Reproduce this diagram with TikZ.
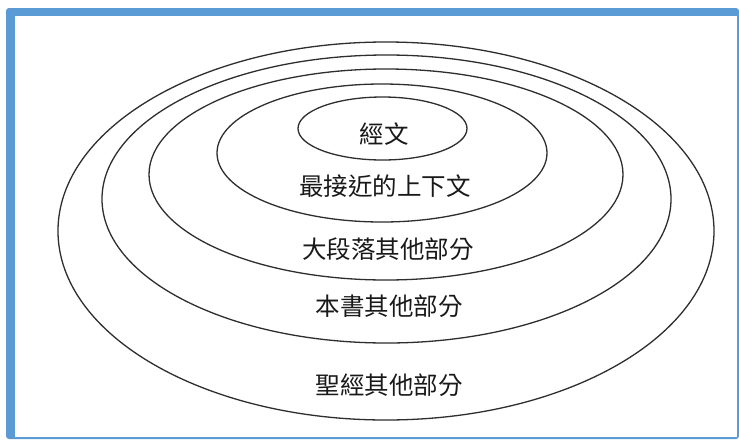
\documentclass[tikz,border=0pt]{standalone}
\usepackage{fontspec}
\newfontfamily\cjk{Noto Sans CJK TC}
\usetikzlibrary{shapes.geometric}
\definecolor{frameblue}{HTML}{5B9BD5}
\definecolor{inkgray}{HTML}{2E2E2E}

\begin{document}
\begin{tikzpicture}[x=1pt,y=-1pt,
        ring/.style={ellipse,draw=inkgray,line width=1.3pt,inner sep=0pt},
        lbl/.style={font=\cjk\fontsize{24.5}{28}\selectfont,text=black!90,inner sep=0pt}]
            \useasboundingbox (0,0) rectangle (739,440);
            % frame
            \fill[frameblue,rounded corners=3pt] (6,8) rectangle (739,439);
            \fill[white] (15,16) rectangle (737,437);
            % rings, from the outside in
            \node[ring,minimum width=656pt,minimum height=378pt] (r5) at (386,231) {};
            \node[ring,minimum width=569pt,minimum height=288pt] (r4) at (386.5,199) {};
            \node[ring,minimum width=474pt,minimum height=211pt] (r3) at (386,174.5) {};
            \node[ring,minimum width=330pt,minimum height=138pt] (r2) at (382,153) {};
            \node[ring,minimum width=169pt,minimum height=63pt] (r1) at (382.5,128.5) {};
            % labels
            \node[lbl] (t1) at (384,134) {經文};
            \node[lbl] (t2) at (385,186) {最接近的上下文};
            \node[lbl] (t3) at (388,249) {大段落其他部分};
            \node[lbl] (t4) at (389,306) {本書其他部分};
            \node[lbl] (t5) at (389,385) {聖經其他部分};
\end{tikzpicture}
\end{document}
